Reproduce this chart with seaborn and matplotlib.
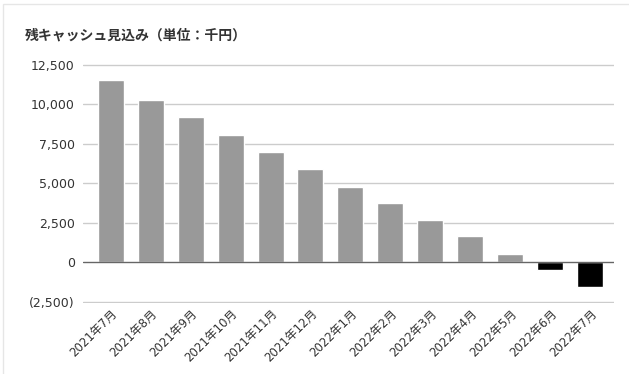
import matplotlib
matplotlib.use('Agg')
import matplotlib.pyplot as plt
import seaborn as sns
import pandas as pd
from matplotlib.ticker import FuncFormatter

# 月別の残キャッシュ見込み (千円)
meses = ['2021年7月', '2021年8月', '2021年9月', '2021年10月', '2021年11月', '2021年12月',
         '2022年1月', '2022年2月', '2022年3月', '2022年4月', '2022年5月', '2022年6月', '2022年7月']
valores = [11530, 10270, 9210, 8050, 7000, 5870, 4770, 3780, 2680, 1680, 560, -500, -1570]
y_ticks = [-2500, 0, 2500, 5000, 7500, 10000, 12500]

sns.set_style('white')
plt.rcParams['font.family'] = ['DejaVu Sans', 'Noto Sans CJK JP']

df = pd.DataFrame({'mes': meses, 'valor': valores})
cores = ['#999999' if v >= 0 else '#000000' for v in valores]

fig = plt.figure(figsize=(6.29, 3.74), dpi=100)
ax = fig.add_axes([0.132, 0.19, 0.844, 0.64])

sns.barplot(data=df, x='mes', y='valor', hue='mes', palette=cores, width=0.65,
            legend=False, ax=ax, saturation=1)

ax.set_ylim(-2560, 12560)
ax.set_xlim(-0.69, len(meses) - 1 + 0.59)
ax.set_yticks(y_ticks)
ax.yaxis.set_major_formatter(FuncFormatter(
    lambda v, p: f'({abs(int(v)):,})' if v < 0 else f'{int(v):,}'))
for y in y_ticks:
    if y == 0:
        ax.axhline(y, color='#666666', lw=1.0, zorder=3)
    else:
        ax.axhline(y, color='#cccccc', lw=1.0, zorder=0)

for s in ax.spines.values():
    s.set_visible(False)
ax.tick_params(axis='y', length=0, pad=6, labelsize=9, labelcolor='#333333')
ax.tick_params(axis='x', length=0, pad=3, labelsize=8.5, labelcolor='#333333')
plt.setp(ax.get_xticklabels(), rotation=45, ha='right', rotation_mode='anchor')
ax.set_xlabel('')
ax.set_ylabel('')

fig.text(0.04, 0.905, '残キャッシュ見込み（単位：千円）', fontsize=10, fontweight='bold',
         color='#333333', family=['Noto Sans CJK JP', 'DejaVu Sans'], va='center')

# カードの枠
fig.patches.append(plt.Rectangle((0.005, -0.1), 1.2, 1.09, transform=fig.transFigure,
                                 fill=False, edgecolor='#e6e6e6', lw=1))

fig.savefig('out.png', dpi=100)
